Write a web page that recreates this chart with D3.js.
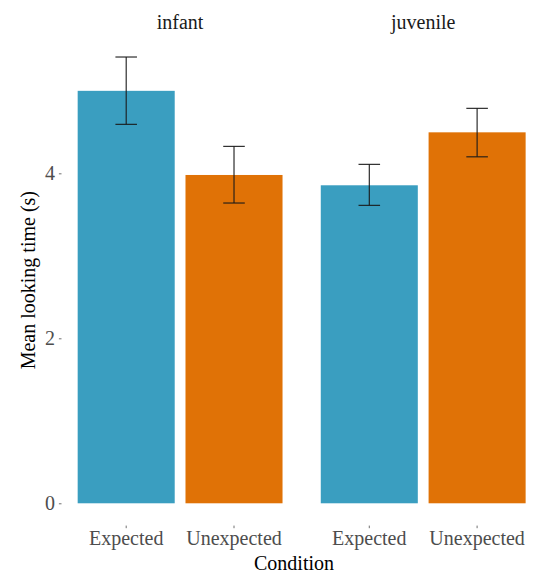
<!DOCTYPE html>
<html>
<head>
<meta charset="utf-8">
<script src="https://cdn.jsdelivr.net/npm/d3@7"></script>
<style>
  @font-face {
    font-family: 'ChartSerif';
    src: local('Liberation Serif'), local('LiberationSerif'), local('LiberationSerif-Regular'), local('Tinos'), local('Times New Roman');
  }
</style>
</head>
<body style="margin:0">
<svg id="chart" width="536" height="573"></svg>
<script>
// ---- data ----
const groups = ["infant", "juvenile"];
const conditions = ["Expected", "Unexpected"];
const means = {
  infant:   [5.00, 3.98],
  juvenile: [3.855, 4.497]
};
const errLow = {
  infant:   [4.594, 3.64],
  juvenile: [3.612, 4.20]
};
const errHigh = {
  infant:   [5.41, 4.327],
  juvenile: [4.109, 4.788]
};
const yTicks = [0, 2, 4];
const colors = ["#3a9ec0", "#e07206"];

// ---- layout ----
const panelTop = 34.7, panelBottom = 525.6;
const panelLeft = 61.5, panelW = 237.2, panelGap = 5.9;
const FONT = "Liberation Serif";
const FS = "20px";

const svg = d3.select("#chart");

const allHigh = groups.flatMap(g => errHigh[g]);
const maxV = d3.max(allHigh);
const pad = 0.05 * maxV;
const y = d3.scaleLinear().domain([-pad, maxV + pad]).range([panelBottom, panelTop]);

const panelX = d3.scaleOrdinal().domain(groups)
  .range(groups.map((g, i) => panelLeft + i * (panelW + panelGap)));

groups.forEach((g) => {
  const x0 = panelX(g);
  const x = d3.scaleBand().domain(conditions).range([x0, x0 + panelW])
    .paddingInner(0.1).paddingOuter(0.15);
  const capW = 0.2 * x.step();
  const cx = c => x(c) + x.bandwidth() / 2;
  const gp = svg.append("g");

  const rows = conditions.map((c, i) => ({
    c, i, m: means[g][i], lo: errLow[g][i], hi: errHigh[g][i]
  }));

  gp.selectAll("rect.bar").data(rows).enter().append("rect")
    .attr("class", "bar")
    .attr("x", d => x(d.c))
    .attr("width", x.bandwidth())
    .attr("y", d => y(d.m))
    .attr("height", d => y(0) - y(d.m))
    .attr("fill", d => colors[d.i]);

  const eb = gp.selectAll("g.err").data(rows).enter().append("g")
    .attr("class", "err")
    .attr("stroke", "#1a1a1a").attr("stroke-width", 1.1).attr("fill", "none");
  eb.append("line")
    .attr("x1", d => cx(d.c)).attr("x2", d => cx(d.c))
    .attr("y1", d => y(d.hi)).attr("y2", d => y(d.lo));
  eb.append("line")
    .attr("x1", d => cx(d.c) - capW / 2).attr("x2", d => cx(d.c) + capW / 2)
    .attr("y1", d => y(d.hi)).attr("y2", d => y(d.hi));
  eb.append("line")
    .attr("x1", d => cx(d.c) - capW / 2).attr("x2", d => cx(d.c) + capW / 2)
    .attr("y1", d => y(d.lo)).attr("y2", d => y(d.lo));

  // x axis
  const xa = svg.append("g").attr("transform", `translate(0,${panelBottom})`)
    .call(d3.axisBottom(x).tickSize(2.6).tickPadding(2));
  xa.attr("font-family", FONT).attr("font-size", FS);
  xa.select(".domain").remove();
  xa.selectAll(".tick line").attr("stroke", "#4d4d4d").attr("stroke-width", 0.8);
  xa.selectAll(".tick text")
    .attr("fill", "#4d4d4d")
    .attr("font-family", FONT).attr("font-size", FS)
    .attr("dy", null).attr("y", 19.4);

  // strip label
  svg.append("text")
    .attr("x", x0 + panelW / 2).attr("y", 29)
    .attr("text-anchor", "middle")
    .attr("font-family", FONT).attr("font-size", FS)
    .attr("fill", "#1a1a1a")
    .text(g);
});

// y axis
const ya = svg.append("g").attr("transform", `translate(${panelLeft},0)`)
  .call(d3.axisLeft(y).tickValues(yTicks).tickSize(2.6).tickPadding(4).tickFormat(d3.format("d")));
ya.attr("font-family", FONT).attr("font-size", FS);
ya.select(".domain").remove();
ya.selectAll(".tick line").attr("stroke", "#4d4d4d").attr("stroke-width", 0.8);
ya.selectAll(".tick text")
  .attr("fill", "#4d4d4d")
  .attr("font-family", FONT).attr("font-size", FS);

// axis titles
svg.append("text")
  .attr("x", 294).attr("y", 569.5)
  .attr("text-anchor", "middle")
  .attr("font-family", FONT).attr("font-size", FS)
  .attr("fill", "#000")
  .text("Condition");

svg.append("text")
  .attr("transform", `translate(35,${(panelTop + panelBottom) / 2}) rotate(-90)`)
  .attr("text-anchor", "middle")
  .attr("font-family", FONT).attr("font-size", FS)
  .attr("fill", "#000")
  .text("Mean looking time (s)");
</script>
</body>
</html>
